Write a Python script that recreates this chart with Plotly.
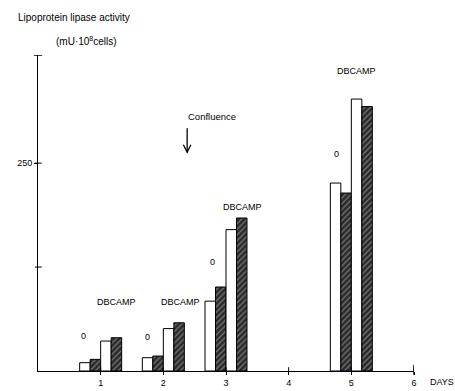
import plotly.graph_objects as go

days = [1, 2, 3, 5]
control_white = [10, 16, 84, 226]
control_hatched = [14, 18, 101, 214]
dbcamp_white = [36, 51, 170, 327]
dbcamp_hatched = [40, 58, 184, 318]
x_ticks = [1, 2, 3, 4, 5, 6]
y_ticks = [125, 250]
y_labeled = [250]

FONT = "Liberation Sans, Arial, sans-serif"

def white_bar(vals, name):
    return go.Bar(x=days, y=vals, name=name,
                  marker=dict(color="white", line=dict(color="black", width=1)))

def hatched_bar(vals, name):
    return go.Bar(x=days, y=vals, name=name,
                  marker=dict(color="#2a2a2a", line=dict(color="black", width=1),
                              pattern=dict(shape="/", fgcolor="#c8c8c8", bgcolor="#2a2a2a",
                                           size=4, solidity=0.3)))

fig = go.Figure([
    white_bar(control_white, "0 white"),
    hatched_bar(control_hatched, "0 hatched"),
    white_bar(dbcamp_white, "DBCAMP white"),
    hatched_bar(dbcamp_hatched, "DBCAMP hatched"),
])

fig.update_layout(
    width=455, height=391,
    margin=dict(l=38, r=41, t=55, b=20, autoexpand=False),
    paper_bgcolor="white", plot_bgcolor="white",
    barmode="group", bargap=0.33, bargroupgap=0,
    showlegend=False,
    font=dict(family=FONT, size=9, color="black"),
    xaxis=dict(range=[0, 6], tickvals=x_ticks, ticks="outside", ticklen=3,
               tickwidth=1, tickcolor="black", showline=True, linecolor="black",
               linewidth=1, showgrid=False, zeroline=False, automargin=False,
               tickfont=dict(size=9, family=FONT)),
    yaxis=dict(range=[0, 380], tickvals=y_labeled,
               ticks="outside", ticklen=3, tickwidth=1, tickcolor="black",
               showline=True, linecolor="black", linewidth=1, showgrid=False,
               zeroline=False, automargin=False, tickfont=dict(size=9, family=FONT)),
)

# cross-through ticks
for v in y_ticks:
    fig.add_shape(type="line", xref="x domain", yref="y", x0=-0.008, x1=0.01, y0=v, y1=v,
                  line=dict(color="black", width=1))
for v in x_ticks:
    fig.add_shape(type="line", xref="x", yref="y domain", x0=v, x1=v, y0=0, y1=0.012,
                  line=dict(color="black", width=1))
# end tick at 6 a bit taller
fig.add_shape(type="line", xref="x", yref="y domain", x0=6, x1=6, y0=-0.012, y1=0.02,
              line=dict(color="black", width=1.5))
# cap at top of y axis
fig.add_shape(type="line", xref="x domain", yref="y", x0=-0.011, x1=0.011, y0=380, y1=380,
              line=dict(color="black", width=1.5))

labels = [
    ("0", 0.73, 42), ("DBCAMP", 1.26, 83),
    ("0", 1.74, 41), ("DBCAMP", 2.27, 83),
    ("0", 2.78, 131), ("DBCAMP", 3.26, 197),
    ("0", 4.77, 261), ("DBCAMP", 5.09, 361),
    ("Confluence", 2.78, 306),
]
for text, x, y in labels:
    fig.add_annotation(x=x, y=y, xref="x", yref="y", text=text, showarrow=False,
                       font=dict(size=9 if text != "Confluence" else 9.5, family=FONT))

# Confluence arrow (shaft + open head)
ax_x, y_top, y_head = 2.38, 292, 263
fig.add_shape(type="line", xref="x", yref="y", x0=ax_x, x1=ax_x, y0=y_top, y1=y_head,
              line=dict(color="black", width=1.3))
fig.add_shape(type="path", xref="x", yref="y",
              path=f"M {ax_x-0.06},{y_head+9} L {ax_x},{y_head} L {ax_x+0.06},{y_head+9}",
              line=dict(color="black", width=1.3))

fig.add_annotation(xref="paper", yref="paper", x=1, y=0, xanchor="left", yanchor="top",
                   xshift=14, yshift=-4, text="DAYS", showarrow=False,
                   font=dict(size=9, family=FONT))

fig.add_annotation(xref="paper", yref="paper", x=-0.058, y=1, xanchor="left", yanchor="bottom",
                   yshift=30, text="Lipoprotein lipase activity", showarrow=False,
                   font=dict(size=10, family=FONT))
fig.add_annotation(xref="paper", yref="paper", x=0.042, y=1, xanchor="left", yanchor="bottom",
                   yshift=6, text="(mU·10<sup>8</sup>cells)", showarrow=False,
                   font=dict(size=10, family=FONT))

fig.write_html("out.html")
